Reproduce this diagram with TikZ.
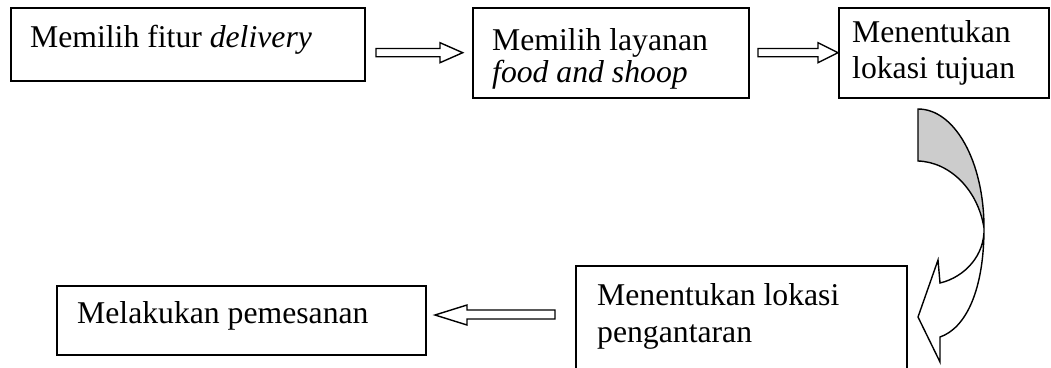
\documentclass[tikz,border=0pt]{standalone}
\usepackage{fontspec}
\setmainfont{Liberation Serif}
\begin{document}
\begin{tikzpicture}[x=1pt,y=-1pt,
  box/.style={draw, line width=2pt, inner sep=0pt, anchor=north west},
  txt/.style={anchor=base west, inner sep=0pt, font=\fontsize{31.7}{32}\selectfont},
  blk/.style={draw, line width=1.4pt, fill=white, line join=miter},
  curv/.style={draw, line width=1.4pt, line join=miter}]
\useasboundingbox (0,0) rectangle (1051,367);
\clip (0,0) rectangle (1051,367);
% boxes
\node[box, minimum width=354pt, minimum height=73pt] (b1) at (10,7) {};
\node[box, minimum width=276pt, minimum height=90pt] (b2) at (472,7) {};
\node[box, minimum width=210pt, minimum height=90pt] (b3) at (838,7) {};
\node[box, minimum width=331pt, minimum height=130pt] (b4) at (575,265) {};
\node[box, minimum width=369pt, minimum height=69pt] (b5) at (56,285) {};
% texts
\node[txt] (t1) at (30,47) {Memilih fitur \textit{delivery}};
\node[txt] (t2a) at (492,50) {Memilih layanan};
\node[txt] (t2b) at (492,82) {\textit{food and shoop}};
\node[txt] (t3a) at (852,42) {Menentukan};
\node[txt] (t3b) at (852,78) {lokasi tujuan};
\node[txt] (t4a) at (597,305) {Menentukan lokasi};
\node[txt] (t4b) at (597,342) {pengantaran};
\node[txt] (t5) at (77,323) {Melakukan pemesanan};
% block arrows
\draw[blk] (376,48.5) -- (440,48.5) -- (440,42.7) -- (462.7,52.7) -- (440,62.7) -- (440,56.7) -- (376,56.7) -- cycle;
\draw[blk] (758,48.5) -- (818,48.5) -- (818,42.7) -- (838,52.7) -- (818,62.7) -- (818,56.7) -- (758,56.7) -- cycle;
\draw[blk] (555,310) -- (467,310) -- (467,305) -- (435,315) -- (467,325) -- (467,319) -- (555,319) -- cycle;
% curved arrow
\draw[curv, fill=gray!40] (918,109) .. controls (955,109) and (984,162) .. (984,228)
  .. controls (978,190) and (950,162) .. (918,161) -- cycle;
\draw[curv, fill=white] (984,228) .. controls (984,290) and (966,328) .. (940,337)
  -- (940,362) -- (918,317) -- (938,260) -- (940,283)
  .. controls (965,277) and (985,255) .. (984,228) -- cycle;
\end{tikzpicture}
\end{document}
